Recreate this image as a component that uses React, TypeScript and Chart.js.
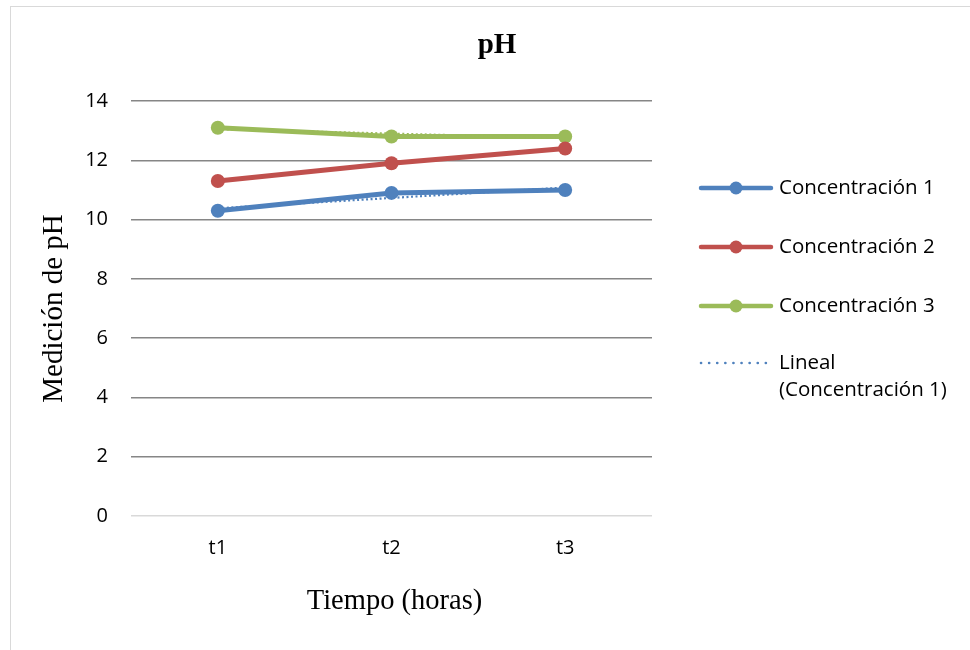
import React, { useEffect, useRef } from "react";
import { Chart, registerables } from "chart.js";

Chart.register(...registerables);

const categories = ["t1", "t2", "t3"];
const seriesNames = ["Concentración 1", "Concentración 2", "Concentración 3"];
const conc1 = [10.3, 10.9, 11.0];
const conc2 = [11.3, 11.9, 12.4];
const conc3 = [13.1, 12.8, 12.8];
const trend1 = [10.38, 10.73, 11.08];
const trend3 = [13.05, 12.9, 12.75];
const trendLabel = ["Lineal", "(Concentración 1)"];
const yMin = 0;
const yMax = 14;
const yStep = 2;
const titleText = "pH";
const xTitleText = "Tiempo (horas)";
const yTitleText = "Medición de pH";

const colors = ["#4F81BD", "#C0504D", "#9BBB59"];
const SANS = "'Open Sans', 'Noto Sans', sans-serif";
const SERIF = "'Liberation Serif', 'DejaVu Serif', serif";

const overlayPlugin = {
  id: "overlay",
  afterDraw(chart: any) {
    const ctx = chart.ctx;
    const area = chart.chartArea;
    ctx.save();
    // title
    ctx.fillStyle = "#000";
    ctx.font = `bold 29px ${SERIF}`;
    ctx.textAlign = "center";
    ctx.textBaseline = "middle";
    ctx.fillText(titleText, 497, 46);
    // x title
    ctx.font = `28.5px ${SERIF}`;
    ctx.fillText(xTitleText, (area.left + area.right) / 2 + 3, 602);
    // y title
    ctx.save();
    ctx.translate(54, (area.top + area.bottom) / 2);
    ctx.rotate(-Math.PI / 2);
    ctx.font = `29px ${SERIF}`;
    ctx.fillText(yTitleText, 0, 0);
    ctx.restore();

    // legend
    const lx0 = 701;
    const lx1 = 771;
    const mx = 736;
    const tx = 779;
    const y0 = 188;
    const gap = 59;
    ctx.textAlign = "left";
    ctx.font = `20.5px ${SANS}`;
    seriesNames.forEach((name, i) => {
      const y = y0 + i * gap;
      ctx.strokeStyle = colors[i];
      ctx.lineWidth = 4.5;
      ctx.lineCap = "round";
      ctx.beginPath();
      ctx.moveTo(lx0, y);
      ctx.lineTo(lx1, y);
      ctx.stroke();
      ctx.fillStyle = colors[i];
      ctx.beginPath();
      ctx.arc(mx, y, 6.5, 0, Math.PI * 2);
      ctx.fill();
      ctx.fillStyle = "#000";
      ctx.fillText(name, tx, y);
    });
    const ty = y0 + 3 * gap - 2;
    ctx.strokeStyle = colors[0];
    ctx.lineWidth = 2.6;
    ctx.lineCap = "round";
    ctx.setLineDash([0.1, 8]);
    ctx.beginPath();
    ctx.moveTo(lx0, ty);
    ctx.lineTo(lx1 - 4, ty);
    ctx.stroke();
    ctx.setLineDash([]);
    ctx.fillStyle = "#000";
    trendLabel.forEach((t, i) => ctx.fillText(t, tx, ty + i * 27));
    ctx.restore();
  },
};

export default function App() {
  const ref = useRef<HTMLCanvasElement | null>(null);
  useEffect(() => {
    if (!ref.current) return;
    const lineDs = (label: string, data: number[], color: string) => ({
      label,
      data,
      borderColor: color,
      backgroundColor: color,
      borderWidth: 5,
      pointRadius: 7,
      pointHoverRadius: 7,
      pointBorderWidth: 0,
      tension: 0,
      order: 1,
    });
    const trendDs = (label: string, data: number[], color: string) => ({
      label,
      data,
      borderColor: color,
      borderWidth: 2.2,
      borderDash: [2, 2.5],
      pointRadius: 0,
      tension: 0,
      order: 0,
    });
    const chart = new Chart(ref.current, {
      type: "line",
      data: {
        labels: categories,
        datasets: [
          trendDs("Lineal (Concentración 1)", trend1, colors[0]),
          trendDs("Lineal (Concentración 3)", trend3, colors[2]),
          lineDs(seriesNames[0], conc1, colors[0]),
          lineDs(seriesNames[1], conc2, colors[1]),
          lineDs(seriesNames[2], conc3, colors[2]),
        ],
      },
      options: {
        animation: false,
        responsive: false,
        devicePixelRatio: 1,
        layout: { padding: { left: 0, top: 101, right: 318, bottom: 0 } },
        plugins: {
          legend: { display: false },
          title: { display: false },
          tooltip: { enabled: false },
        },
        scales: {
          x: {
            offset: true,
            grid: { display: false, drawTicks: false },
            border: { display: false },
            ticks: {
              font: { family: SANS, size: 20 },
              color: "#000",
              padding: 20,
            },
            afterFit: (s: any) => {
              s.height = 134;
            },
          },
          y: {
            min: yMin,
            max: yMax,
            ticks: {
              stepSize: yStep,
              font: { family: SANS, size: 20 },
              color: "#000",
              padding: 23,
            },
            grid: {
              drawTicks: false,
              lineWidth: 1.5,
              color: (c: any) => (c.tick && c.tick.value === 0 ? "#d9d9d9" : "#868686"),
            },
            border: { display: false },
            afterFit: (s: any) => {
              s.width = 131;
            },
          },
        },
      },
      plugins: [overlayPlugin],
    });
    return () => chart.destroy();
  }, []);
  return (
    <div
      style={{
        position: "absolute",
        left: 0,
        top: 0,
        width: 970,
        height: 650,
        overflow: "hidden",
        background: "#fff",
      }}
    >
      <div
        style={{
          position: "absolute",
          left: 10,
          top: 6,
          width: 1100,
          height: 800,
          border: "1.5px solid #d9d9d9",
        }}
      />
      <canvas
        ref={ref}
        width={970}
        height={650}
        style={{ position: "absolute", left: 0, top: 0, width: 970, height: 650 }}
      />
    </div>
  );
}
